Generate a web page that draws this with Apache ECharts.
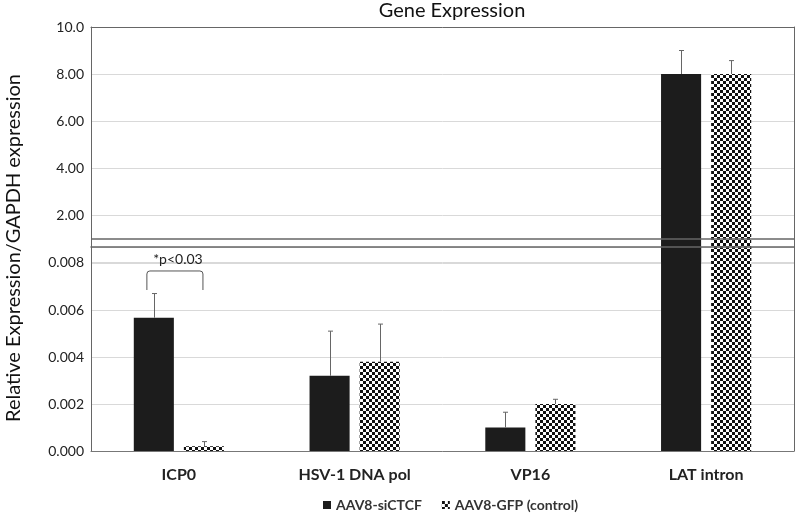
<!DOCTYPE html>
<html>
<head>
<meta charset="utf-8">
<script src="https://cdn.jsdelivr.net/npm/echarts@6/dist/echarts.min.js"></script>
<style>html,body{margin:0;padding:0;background:#fff}#c{width:800px;height:514px}</style>
</head>
<body>
<div id="c"></div>
<script>
// ---- data ----
const categories = ['ICP0', 'HSV-1 DNA pol', 'VP16', 'LAT intron'];
const siCTCF = [0.00567, 0.0032, 0.0010, 8.0];
const siCTCFErr = [0.00103, 0.0019, 0.00065, 1.0];
const gfp = [0.0002, 0.0038, 0.0020, 8.0];
const gfpErr = [0.0002, 0.0016, 0.0002, 0.57];
const seriesNames = ['AAV8-siCTCF', 'AAV8-GFP (control)'];
const upperMax = 10, upperInterval = 2;
const lowerMax = 0.00868, lowerInterval = 0.002;
const breakValue = 1.0;          // upper-panel value where the break line sits
const sigLabel = '*p<0.03';
const sigBracket = [[0, 0.00766, 0.00685, 0.00817]]; // [category, top, ends, text]

const BAR_FRAC = 0.228, GAP = 0.25;
const FONT = 'Lato';

const chart = echarts.init(document.getElementById('c'));

// checker pattern
const pc = document.createElement('canvas');
pc.width = 6; pc.height = 6;
const g = pc.getContext('2d');
g.fillStyle = '#fff'; g.fillRect(0, 0, 6, 6);
g.fillStyle = '#111'; g.fillRect(0, 0, 3, 3); g.fillRect(3, 3, 3, 3);
const checker = { image: pc, repeat: 'repeat' };

const solidStyle = { color: '#1c1c1c', borderWidth: 0 };
const checkStyle = { color: checker, borderWidth: 0 };

function errRender(sign) {
  return function (params, api) {
    const x = api.value(0), v = api.value(1), e = api.value(2);
    const band = api.size([1, 0])[0];
    const off = sign * band * BAR_FRAC * (0.5 + GAP / 2);
    const p0 = api.coord([x, v]);
    const p1 = api.coord([x, v + e]);
    const cx = Math.round(p0[0] + off) + 0.5;
    return {
      type: 'group',
      children: [
        { type: 'line', shape: { x1: cx, y1: p0[1], x2: cx, y2: p1[1] }, style: { stroke: '#666', lineWidth: 1 } },
        { type: 'line', shape: { x1: cx - 2.5, y1: p1[1], x2: cx + 2.5, y2: p1[1] }, style: { stroke: '#666', lineWidth: 1 } }
      ]
    };
  };
}

function errData(vals, errs, upper) {
  return vals.map((v, i) => [i, v, errs[i]]).filter(d => upper ? d[1] > breakValue : d[1] < breakValue);
}

function bracketRender(params, api) {
  const x = api.value(0);
  const band = api.size([1, 0])[0];
  const c = api.coord([x, api.value(1)]);
  const b = api.coord([x, api.value(2)]);
  const t = api.coord([x, api.value(3)]);
  const l = c[0] - band * 0.182, r = c[0] + band * 0.137;
  const top = c[1], bot = b[1];
  return {
    type: 'group',
    children: [
      { type: 'path', shape: { pathData: `M${l},${bot} L${l},${top + 3} Q${l},${top} ${l + 3},${top} L${r - 3},${top} Q${r},${top} ${r},${top + 3} L${r},${bot}` },
        style: { stroke: '#555', lineWidth: 1, fill: null } },
      { type: 'text', x: (l + r) / 2 + 3, y: t[1], style: { text: sigLabel, font: `14px ${FONT}`, fill: '#222', align: 'center', verticalAlign: 'middle' } }
    ]
  };
}

const axisLineDark = { show: true, onZero: false, lineStyle: { color: '#666', width: 1 } };

const option = {
  animation: false,
  backgroundColor: '#fff',
  title: {
    text: 'Gene Expression', left: 452, top: 0, padding: 0, textAlign: 'center',
    textStyle: { fontFamily: FONT, fontSize: 20, fontWeight: 'normal', color: '#111', lineHeight: 22 }
  },
  legend: {
    data: seriesNames, left: 318, top: 493, itemWidth: 8, itemHeight: 8, itemGap: 20, icon: 'rect',
    textStyle: { fontFamily: FONT, fontSize: 14, fontWeight: 'bold', color: '#333' }
  },
  graphic: [{
    type: 'text', x: 14, y: 248, rotation: Math.PI / 2,
    style: { text: 'Relative Expression/GAPDH expression', font: `20px ${FONT}`, fill: '#111', align: 'center', verticalAlign: 'middle' }
  }],
  grid: [
    { left: 91, right: 6, top: 27, height: 235 },
    { left: 91, right: 6, top: 247, height: 204 }
  ],
  xAxis: [
    { type: 'category', gridIndex: 0, data: categories, position: 'top', axisLine: axisLineDark, axisTick: { show: false }, axisLabel: { show: false } },
    { type: 'category', gridIndex: 1, data: categories, position: 'bottom', axisLine: { show: true, onZero: false, lineStyle: { color: '#777' } }, axisTick: { show: false },
      axisLabel: { margin: 16, fontFamily: FONT, fontSize: 16, fontWeight: 'bold', color: '#222' } },
    { type: 'category', gridIndex: 1, data: categories, position: 'top', z: 10, axisLine: { show: true, onZero: false, lineStyle: { color: '#666', width: 1.5 } }, axisTick: { show: false }, axisLabel: { show: false } }
  ],
  yAxis: [
    { type: 'value', gridIndex: 0, min: 0, max: upperMax, interval: upperInterval, position: 'left',
      axisLine: axisLineDark, axisTick: { show: false },
      axisLabel: { showMinLabel: false, margin: 7, fontFamily: FONT, fontSize: 14, color: '#222', formatter: v => v === upperMax ? v.toFixed(1) : v.toFixed(2) },
      splitLine: { lineStyle: { color: '#d9d9d9' } } },
    { type: 'value', gridIndex: 0, min: 0, max: upperMax, position: 'right', axisLine: axisLineDark, axisTick: { show: false }, axisLabel: { show: false }, splitLine: { show: false } },
    { type: 'value', gridIndex: 1, min: 0, max: lowerMax, interval: lowerInterval, position: 'left',
      axisLine: axisLineDark, axisTick: { show: false },
      axisLabel: { showMaxLabel: false, margin: 7, fontFamily: FONT, fontSize: 14, color: '#222', formatter: v => v.toFixed(3) },
      splitLine: { lineStyle: { color: '#d9d9d9' } } },
    { type: 'value', gridIndex: 1, min: 0, max: lowerMax, position: 'right', axisLine: axisLineDark, axisTick: { show: false }, axisLabel: { show: false }, splitLine: { show: false } }
  ],
  series: [
    { name: seriesNames[0], type: 'bar', xAxisIndex: 0, yAxisIndex: 0, barWidth: (BAR_FRAC * 100) + '%', barGap: (GAP * 100) + '%',
      data: siCTCF.map(v => v > breakValue ? v : '-'), itemStyle: solidStyle,
      markLine: { silent: true, symbol: 'none', label: { show: false }, lineStyle: { color: '#666', width: 1.5, type: 'solid' }, data: [{ yAxis: breakValue }] } },
    { name: seriesNames[1], type: 'bar', xAxisIndex: 0, yAxisIndex: 0, barWidth: (BAR_FRAC * 100) + '%', barGap: (GAP * 100) + '%',
      data: gfp.map(v => v > breakValue ? v : '-'), itemStyle: checkStyle },
    { name: seriesNames[0], type: 'bar', xAxisIndex: 1, yAxisIndex: 2, barWidth: (BAR_FRAC * 100) + '%', barGap: (GAP * 100) + '%',
      data: siCTCF, itemStyle: solidStyle },
    { name: seriesNames[1], type: 'bar', xAxisIndex: 1, yAxisIndex: 2, barWidth: (BAR_FRAC * 100) + '%', barGap: (GAP * 100) + '%',
      data: gfp, itemStyle: checkStyle },
    { type: 'custom', xAxisIndex: 0, yAxisIndex: 0, renderItem: errRender(-1), data: errData(siCTCF, siCTCFErr, true), z: 5 },
    { type: 'custom', xAxisIndex: 0, yAxisIndex: 0, renderItem: errRender(1), data: errData(gfp, gfpErr, true), z: 5 },
    { type: 'custom', xAxisIndex: 1, yAxisIndex: 2, renderItem: errRender(-1), data: errData(siCTCF, siCTCFErr, false), z: 5 },
    { type: 'custom', xAxisIndex: 1, yAxisIndex: 2, renderItem: errRender(1), data: errData(gfp, gfpErr, false), z: 5 },
    { type: 'custom', xAxisIndex: 1, yAxisIndex: 2, renderItem: bracketRender, data: sigBracket, z: 5 }
  ]
};
chart.setOption(option);
</script>
</body>
</html>
